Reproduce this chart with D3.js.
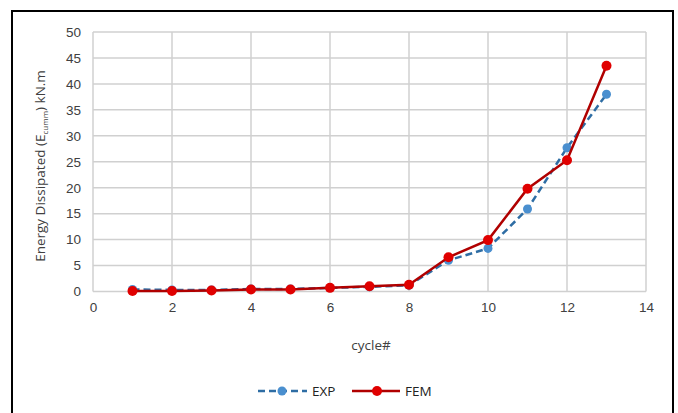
<!DOCTYPE html>
<html>
<head>
<meta charset="utf-8">
<script src="https://cdn.jsdelivr.net/npm/d3@7"></script>
<style>
  body { margin: 0; background: #fff; }
  svg { display: block; font-family: "Open Sans", "Liberation Sans", Arial, sans-serif; }
</style>
</head>
<body>
<div id="chart"></div>
<script>
const cycles = [1, 2, 3, 4, 5, 6, 7, 8, 9, 10, 11, 12, 13];
const expValues = [0.4, 0.3, 0.3, 0.5, 0.5, 0.7, 0.9, 1.2, 6.0, 8.3, 15.9, 27.7, 38.0];
const femValues = [0.1, 0.1, 0.2, 0.4, 0.4, 0.7, 1.0, 1.3, 6.6, 9.9, 19.8, 25.3, 43.5];
const xTicks = [0, 2, 4, 6, 8, 10, 12, 14];
const yTicks = [0, 5, 10, 15, 20, 25, 30, 35, 40, 45, 50];

const width = 678;
const height = 413;
const margin = { top: 32, right: 32, bottom: 121, left: 93 };

const svg = d3.select('#chart')
  .append('svg')
  .attr('width', width)
  .attr('height', height);

// outer frame
svg.append('rect')
  .attr('x', 12).attr('y', 11)
  .attr('width', 661).attr('height', 410)
  .attr('fill', 'none')
  .attr('stroke', '#000')
  .attr('stroke-width', 2);

const x = d3.scaleLinear().domain([0, 14]).range([margin.left, width - margin.right]);
const y = d3.scaleLinear().domain([0, 50]).range([height - margin.bottom - 0.5, margin.top]);

// grid
svg.append('g')
  .selectAll('line')
  .data(yTicks)
  .join('line')
  .attr('x1', x(0)).attr('x2', x(14))
  .attr('y1', d => y(d)).attr('y2', d => y(d))
  .attr('stroke', '#d0d0d0')
  .attr('stroke-width', 1.5);

svg.append('g')
  .selectAll('line')
  .data(xTicks)
  .join('line')
  .attr('x1', d => x(d)).attr('x2', d => x(d))
  .attr('y1', y(0)).attr('y2', y(50))
  .attr('stroke', '#d0d0d0')
  .attr('stroke-width', 1.5);

// axes labels
const yAxis = d3.axisLeft(y).tickValues(yTicks).tickSize(0).tickPadding(12);
svg.append('g')
  .attr('transform', `translate(${x(0)},0)`)
  .call(yAxis)
  .call(g => g.select('.domain').remove())
  .call(g => g.selectAll('text').attr('fill', '#404040').style('font-size', '13.5px'));

const xAxis = d3.axisBottom(x).tickValues(xTicks).tickSize(0).tickPadding(11);
svg.append('g')
  .attr('transform', `translate(0,${y(0)})`)
  .call(xAxis)
  .call(g => g.select('.domain').remove())
  .call(g => g.selectAll('text').attr('fill', '#404040').style('font-size', '13.5px'));

// axis titles
svg.append('text')
  .attr('x', 371).attr('y', 350)
  .attr('text-anchor', 'middle')
  .attr('fill', '#404040')
  .style('font-size', '13.5px')
  .text('cycle#');

const yTitle = svg.append('text')
  .attr('transform', 'translate(45,166) rotate(-90)')
  .attr('text-anchor', 'middle')
  .attr('fill', '#404040')
  .style('font-size', '13.5px');
yTitle.append('tspan').text('Energy Dissipated (E');
yTitle.append('tspan').attr('dy', 3).style('font-size', '8px').text('cumm');
yTitle.append('tspan').attr('dy', -3).text(') kN.m');

// series
const line = d3.line().x(d => x(d[0])).y(d => y(d[1]));
const expData = cycles.map((c, i) => [c, expValues[i]]);
const femData = cycles.map((c, i) => [c, femValues[i]]);

svg.append('path')
  .datum(expData)
  .attr('d', line)
  .attr('fill', 'none')
  .attr('stroke', '#2e6da4')
  .attr('stroke-width', 2.5)
  .attr('stroke-dasharray', '7,4');

svg.append('g')
  .selectAll('circle')
  .data(expData)
  .join('circle')
  .attr('cx', d => x(d[0]))
  .attr('cy', d => y(d[1]))
  .attr('r', 4.5)
  .attr('fill', '#4a8fcf');

svg.append('path')
  .datum(femData)
  .attr('d', line)
  .attr('fill', 'none')
  .attr('stroke', '#b00000')
  .attr('stroke-width', 2.5);

svg.append('g')
  .selectAll('circle')
  .data(femData)
  .join('circle')
  .attr('cx', d => x(d[0]))
  .attr('cy', d => y(d[1]))
  .attr('r', 5)
  .attr('fill', '#e00000');

// legend
const legend = svg.append('g').attr('transform', 'translate(0,391)');
legend.append('line')
  .attr('x1', 258).attr('x2', 307).attr('y1', 0).attr('y2', 0)
  .attr('stroke', '#2e6da4').attr('stroke-width', 2.5).attr('stroke-dasharray', '7,4');
legend.append('circle').attr('cx', 282).attr('cy', 0).attr('r', 4.5).attr('fill', '#4a8fcf');
legend.append('text').attr('x', 312).attr('y', 5).attr('fill', '#222').style('font-size', '13.5px').text('EXP');

legend.append('line')
  .attr('x1', 352).attr('x2', 400).attr('y1', 0).attr('y2', 0)
  .attr('stroke', '#b00000').attr('stroke-width', 2.5);
legend.append('circle').attr('cx', 377).attr('cy', 0).attr('r', 5).attr('fill', '#e00000');
legend.append('text').attr('x', 405).attr('y', 5).attr('fill', '#222').style('font-size', '13.5px').text('FEM');
</script>
</body>
</html>
